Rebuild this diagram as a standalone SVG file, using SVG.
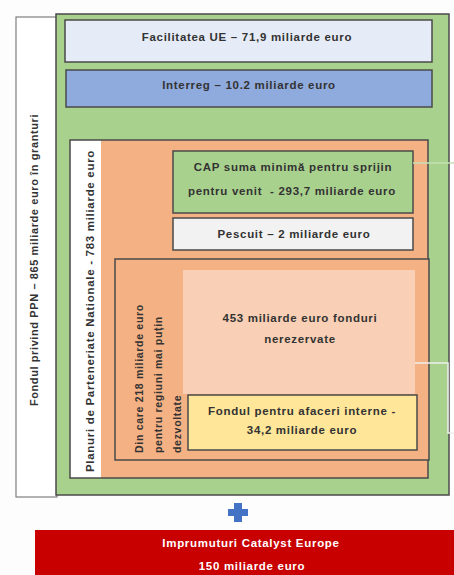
<svg xmlns="http://www.w3.org/2000/svg" width="454" height="575" viewBox="0 0 454 575">
<style>
.t{font-family:"Liberation Sans",Arial,sans-serif;font-size:11.5px;font-weight:bold;letter-spacing:0.7px;fill:#333;text-anchor:middle}
.r{font-family:"Liberation Sans",Arial,sans-serif;font-size:10.5px;font-weight:bold;letter-spacing:0.7px;fill:#333}
.box{stroke:#4a4a4a;stroke-width:1.5}
.w{fill:#fff}
</style>
<rect width="454" height="575" fill="#fdfdfd"/>
<g id="fondul-ppn">
<rect x="16" y="17" width="41" height="480" fill="#fff" stroke="#7f7f7f" stroke-width="1.2"/>
<text class="r" transform="translate(38,260) rotate(-90)" text-anchor="middle" style="font-size:11px;letter-spacing:0.6px">Fondul privind PPN – 865 miliarde euro în granturi</text>
</g>
<g id="granturi">
<rect class="box" x="56" y="14" width="393" height="481" fill="#a9d18e"/>
</g>
<g id="facilitatea">
<rect class="box" x="65" y="20" width="367" height="42" fill="#e6ecf7"/>
<text class="t" x="247" y="41">Facilitatea UE – 71,9 miliarde euro</text>
</g>
<g id="interreg">
<rect class="box" x="66" y="70" width="366" height="37" fill="#8faadc"/>
<text class="t" x="249" y="89">Interreg – 10.2 miliarde euro</text>
</g>
<g id="planuri">
<rect x="70" y="140" width="358" height="338" fill="#fff"/>
<rect x="101" y="140" width="327" height="338" fill="#f4b183"/>
<rect x="70" y="140" width="358" height="338" fill="none" stroke="#4a4a4a" stroke-width="1.5"/>
<text class="r" transform="translate(94,311) rotate(-90)" text-anchor="middle" style="font-size:11.5px;letter-spacing:0.7px">Planuri de Parteneriate Nationale - 783 miliarde euro</text>
</g>
<g id="cap">
<rect class="box" x="173" y="151" width="240" height="62" fill="#a9d18e"/>
<text class="t" x="293" y="171">CAP suma minimă pentru sprijin</text>
<text class="t" x="292" y="195" xml:space="preserve">pentru venit  - 293,7 miliarde euro</text>
</g>
<g id="pescuit">
<rect class="box" x="173" y="218" width="240" height="32" fill="#f2f2f2"/>
<text class="t" x="294" y="238">Pescuit – 2 miliarde euro</text>
</g>
<g id="regiuni">
<rect class="box" x="115" y="259" width="314" height="201" fill="#f4b183"/>
<text class="r" transform="translate(142.5,453) rotate(-90)">Din care 218 miliarde euro</text>
<text class="r" transform="translate(161.5,453) rotate(-90)">pentru regiuni mai puțin</text>
<text class="r" transform="translate(180.5,453) rotate(-90)">dezvoltate</text>
</g>
<g id="nerezervate">
<rect x="183" y="270" width="232" height="124" fill="#f9d0b5"/>
<text class="t" x="300" y="322">453 miliarde euro fonduri</text>
<text class="t" x="300" y="343">nerezervate</text>
</g>
<g id="afaceri-interne">
<rect class="box" x="188" y="395" width="229" height="55" fill="#ffe699"/>
<text class="t" x="302" y="415">Fondul pentru afaceri interne -</text>
<text class="t" x="302" y="434">34,2 miliarde euro</text>
</g>
<g id="connectors" fill="none" stroke-width="1.5">
<path d="M413 163 H454" stroke="#c5e0b4"/>
<path d="M415 363 H448 V433 H454" stroke="#eeeeee"/>
</g>
<g id="plus">
<path d="M234 503 H242 V509 H248 V516 H242 V522 H234 V516 H228 V509 H234 Z" fill="#4472c4"/>
</g>
<g id="catalyst">
<rect x="35" y="530" width="419" height="45" fill="#c80000"/>
<text class="t w" x="251" y="547">Imprumuturi Catalyst Europe</text>
<text class="t w" x="252" y="570">150 miliarde euro</text>
</g>
</svg>
